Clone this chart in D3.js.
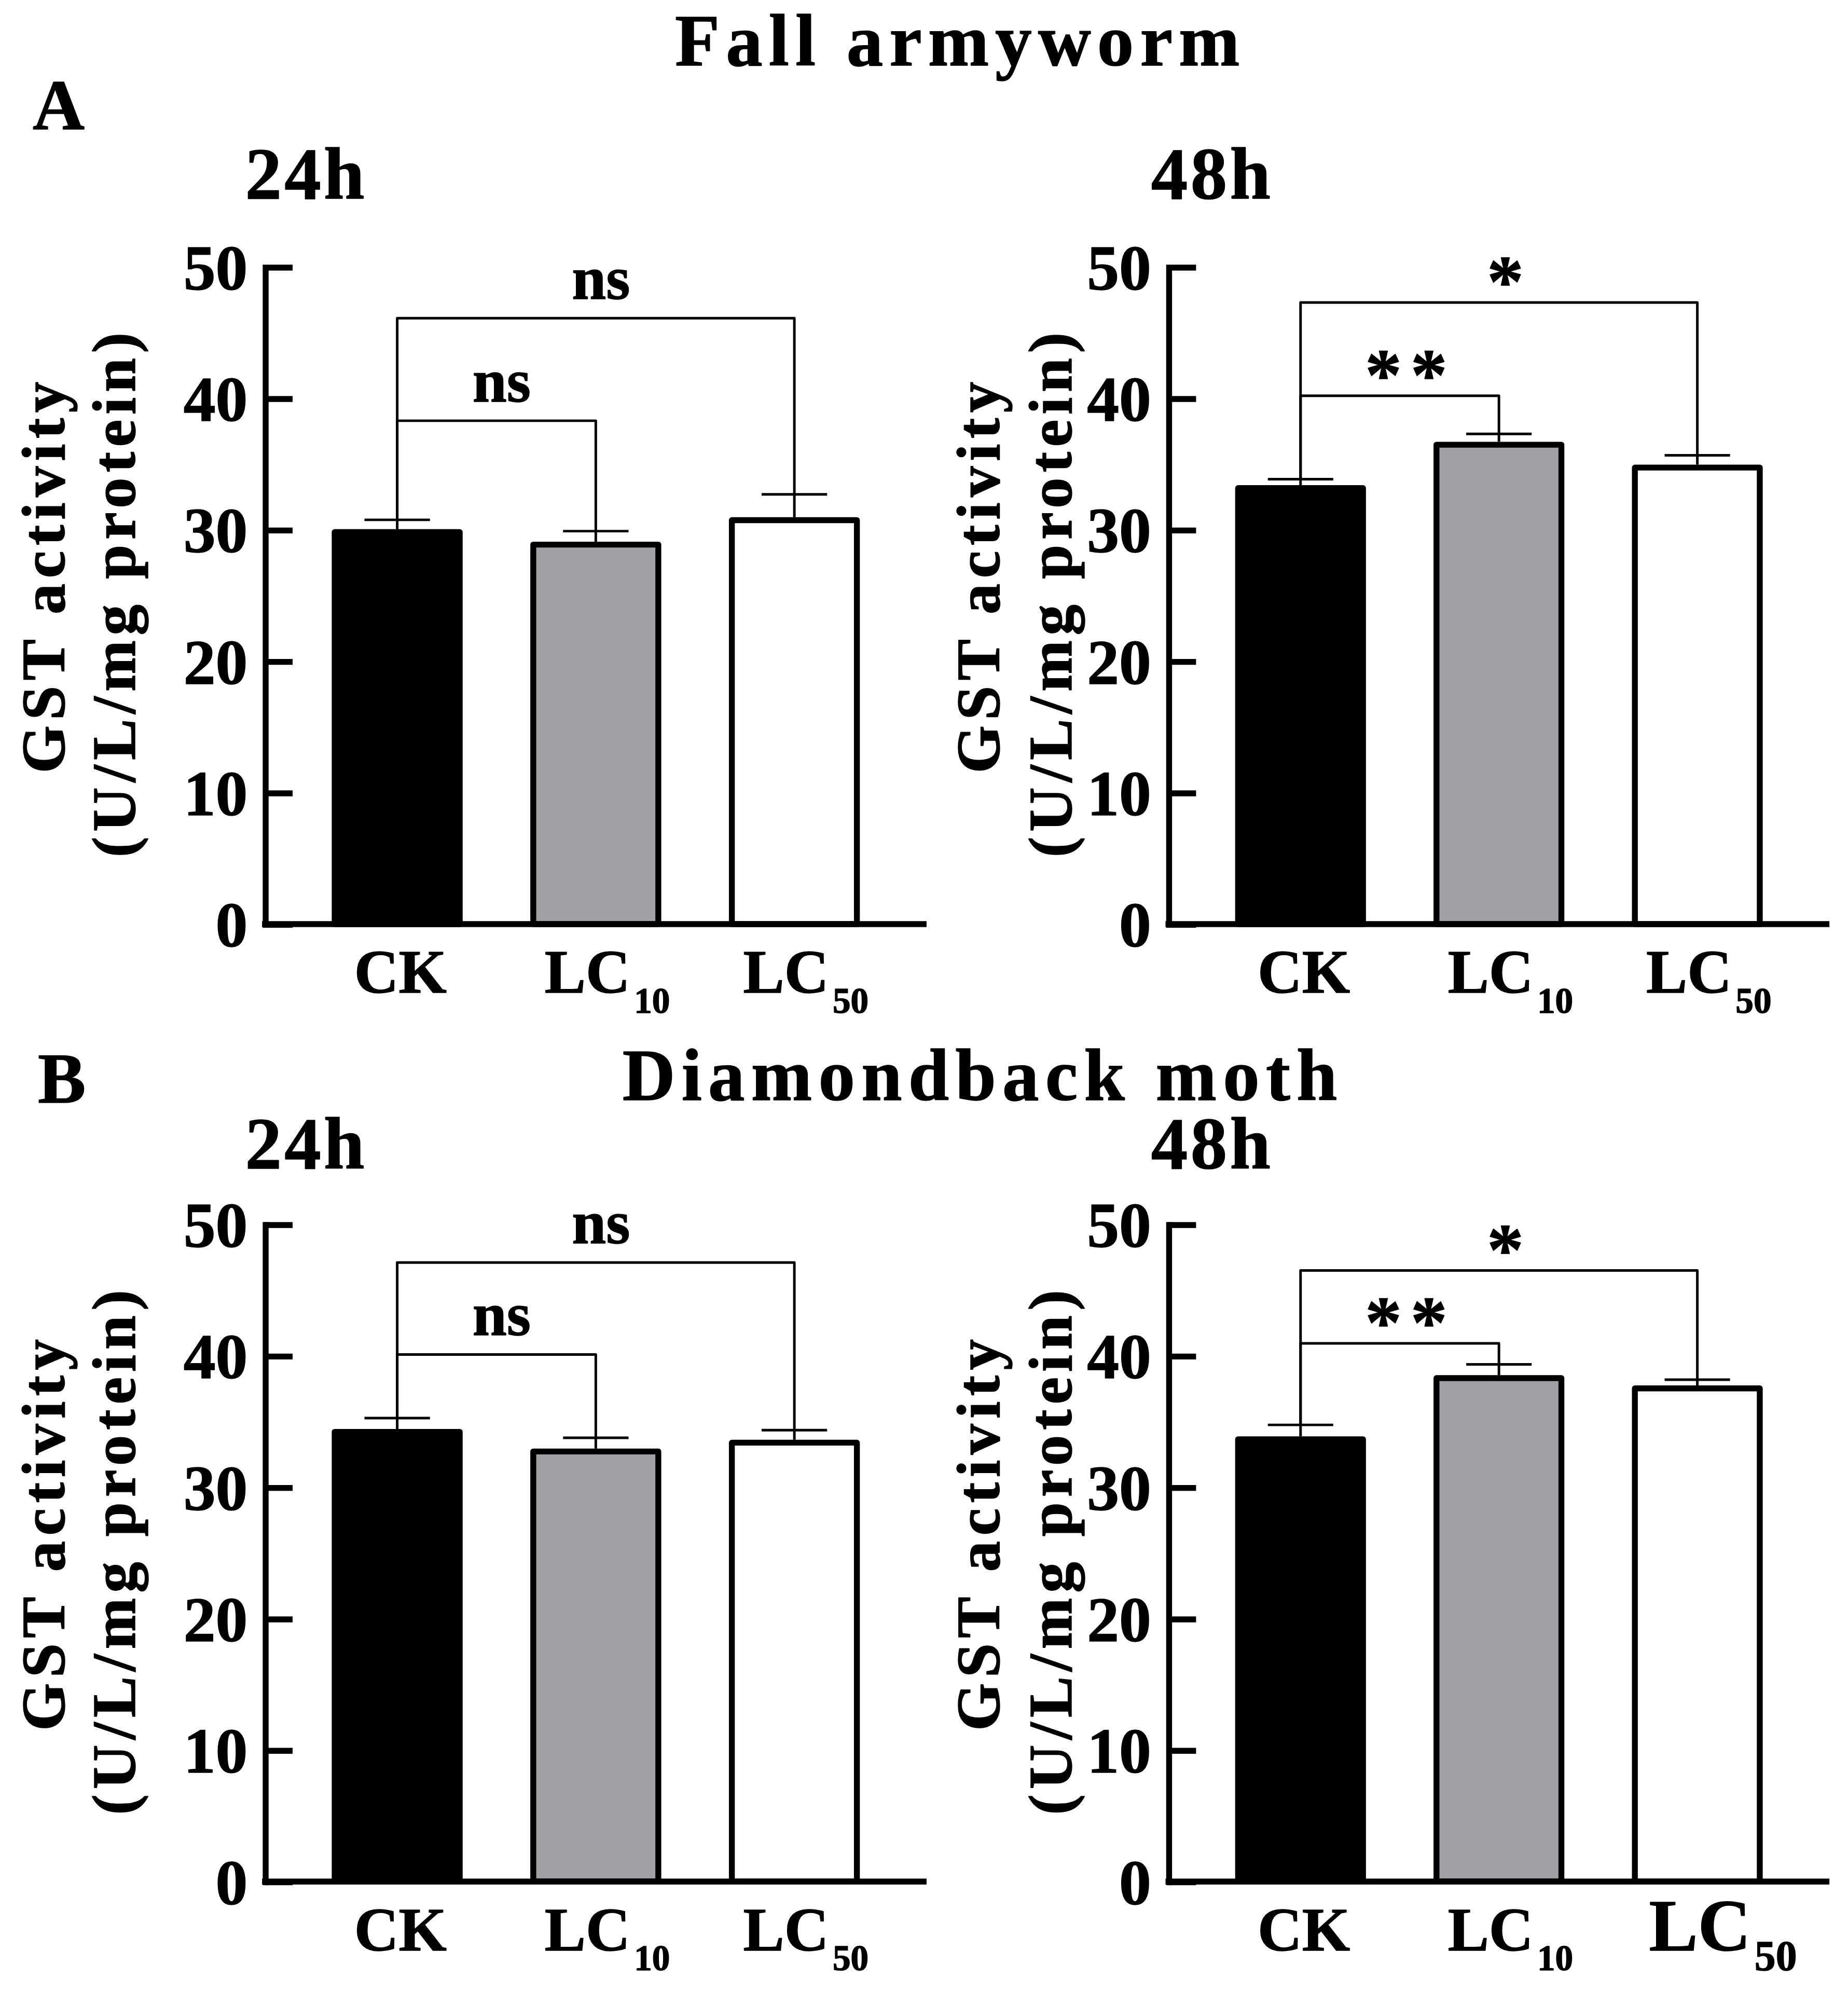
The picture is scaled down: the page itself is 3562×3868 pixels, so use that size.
<!DOCTYPE html>
<html><head><meta charset="utf-8">
<script src="https://cdn.jsdelivr.net/npm/d3@7"></script>
<style>html,body{margin:0;padding:0;background:#fff;} svg{display:block;}</style>
</head><body><svg id="chart"></svg>
<script>
// ---------------- data ----------------
const categories = ["CK", "LC10", "LC50"];
const yTicks = [0, 10, 20, 30, 40, 50];
const meanA24 = [30.05, 29.1, 30.96];
const errA24  = [0.71, 0.8, 1.74];
const meanA48 = [33.4, 36.7, 34.96];
const errA48  = [0.45, 0.6, 0.71];
const meanB24 = [34.44, 32.95, 33.62];
const errB24  = [0.83, 0.82, 0.73];
const meanB48 = [33.88, 38.53, 37.75];
const errB48  = [0.87, 0.82, 0.44];
const bracketPairs = [[0, 1], [0, 2]];
const bracketA24 = [38.3, 46.1];
const bracketA48 = [40.2, 47.3];
const bracketB24 = [40.1, 47.1];
const bracketB48 = [40.95, 46.5];
const sigA24 = ["ns", "ns"];
const sigA48 = ["**", "*"];
const sigB24 = ["ns", "ns"];
const sigB48 = ["**", "*"];
const timeLabels = ["24h", "48h"];
const speciesTitles = ["Fall armyworm", "Diamondback moth"];
const panelLetters = ["A", "B"];
const yLabel1 = "GST activity";
const yLabel2 = "(U/L/mg protein)";
const fills = ["#000000", "#a1a1a5", "#ffffff"];

// ---------------- layout ----------------
const W = 1440, H = 3868 * 1440 / 3562;
const FONT = "'Liberation Serif','Times New Roman',Times,serif";
const AX = 4.6, THIN = 2, TS = 0.6;
const cols = [
  {x0: 206.5, x1: 722, yl1: 50, yl2: 105, tx0: 191, tx1: 284},
  {x0: 910.5, x1: 1425.5, yl1: 778.5, yl2: 835, tx0: 897, tx1: 990}
];
const rows = [
  {y0: 720, y50: 208, tBase: 50.8, tx0: 526, tx1: 966, lx: 25.5, lBase: 100.8, hBase: 155},
  {y0: 1466, y50: 954, tBase: 857, tx0: 485, tx1: 1042, lx: 29.5, lBase: 859, hBase: 910.3}
];

const svg = d3.select("#chart")
  .attr("width", 3562).attr("height", 3868)
  .attr("viewBox", `0 0 ${W} ${H}`)
  .style("font-family", FONT).style("font-weight", "bold")
  .style("stroke-linejoin", "round");

function heavy(sel) { return sel.attr("stroke", "#000").attr("stroke-width", TS); }

// titles
rows.forEach((r, i) => {
  heavy(svg.append("text").attr("x", r.tx0).attr("y", r.tBase)
    .attr("font-size", 57).attr("textLength", r.tx1 - r.tx0).attr("lengthAdjust", "spacing")
    .text(speciesTitles[i]));
  heavy(svg.append("text").attr("x", r.lx).attr("y", r.lBase)
    .attr("font-size", 56).text(panelLetters[i]));
  cols.forEach((c, j) => {
    heavy(svg.append("text").attr("x", c.tx0).attr("y", r.hBase)
      .attr("font-size", 57).attr("textLength", c.tx1 - c.tx0).attr("lengthAdjust", "spacing")
      .text(timeLabels[j]));
  });
});

function drawPanel(c, r, means, errs, brs, sigs, bigLast) {
  const g = svg.append("g");
  const x = d3.scaleBand().domain(categories).range([c.x0, c.x1])
    .paddingInner(0.3406).paddingOuter(0.336);
  const y = d3.scaleLinear().domain([0, 50]).range([r.y0, r.y50]);
  const bw = x.bandwidth();
  const cx = i => x(categories[i]) + bw / 2;

  // bars
  g.selectAll("rect.bar").data(categories).enter().append("rect")
    .attr("x", d => x(d) + AX / 2)
    .attr("y", (d, i) => y(means[i]) + AX / 2)
    .attr("width", bw - AX)
    .attr("height", (d, i) => r.y0 - y(means[i]) - AX / 2)
    .attr("fill", (d, i) => fills[i])
    .attr("stroke", "#000").attr("stroke-width", AX);

  // error bars (upper)
  categories.forEach((d, i) => {
    const xc = cx(i), yt = y(means[i] + errs[i]);
    g.append("line").attr("x1", xc).attr("x2", xc).attr("y1", y(means[i])).attr("y2", yt)
      .attr("stroke", "#000").attr("stroke-width", THIN);
    g.append("line").attr("x1", xc - bw / 4).attr("x2", xc + bw / 4).attr("y1", yt).attr("y2", yt)
      .attr("stroke", "#000").attr("stroke-width", THIN);
  });

  // brackets
  bracketPairs.forEach((p, k) => {
    const [a, b] = p;
    const yb = y(brs[k]);
    g.append("path")
      .attr("d", `M${cx(a)},${y(means[a] + errs[a])}V${yb}H${cx(b)}V${y(means[b] + errs[b])}`)
      .attr("fill", "none").attr("stroke", "#000").attr("stroke-width", THIN);
    const s = sigs[k];
    const mid = (cx(a) + cx(b)) / 2;
    const t = heavy(g.append("text").attr("text-anchor", "middle").text(s));
    if (s === "ns") {
      t.attr("font-size", 48).attr("x", mid + 4).attr("y", yb - 15);
    } else {
      const ls = s.length > 1 ? 7 : 0;
      t.attr("font-size", 57).attr("x", mid + 5 + ls / 2).attr("y", yb + 3)
        .attr("letter-spacing", ls);
    }
  });

  // y axis (inward ticks)
  const ya = g.append("g").attr("transform", `translate(${c.x0},0)`)
    .call(d3.axisLeft(y).tickValues(yTicks).tickSize(-21.5).tickSizeOuter(0).tickPadding(13.5));
  ya.attr("font-family", FONT).attr("font-size", 50).attr("font-weight", "bold");
  ya.select(".domain").attr("stroke-width", AX).attr("stroke-linecap", "square");
  ya.selectAll(".tick line").attr("stroke-width", AX);
  heavy(ya.selectAll(".tick text").attr("fill", "#000").attr("dy", "0.34em"));

  // x axis
  const xa = g.append("g").attr("transform", `translate(0,${r.y0})`)
    .call(d3.axisBottom(x).tickSize(0).tickSizeOuter(0).tickPadding(0));
  xa.attr("font-family", FONT).attr("font-weight", "bold");
  xa.select(".domain").attr("stroke-width", AX)
    .attr("d", `M${c.x0 - AX / 2},0H${c.x1}`);
  xa.selectAll(".tick text").each(function (d, i) {
    const t = heavy(d3.select(this).attr("fill", "#000").attr("dy", null).attr("y", 53.5)
      .attr("text-anchor", "middle").text(null));
    const big = bigLast && i === categories.length - 1;
    const fs = big ? 57 : 48, ss = big ? 33 : 28;
    if (d.startsWith("LC")) {
      t.attr("x", big ? 20 : 9);
      t.append("tspan").attr("font-size", fs).text("LC");
      t.append("tspan").attr("font-size", ss).attr("dx", 3).attr("dy", 15.5).text(d.slice(2));
    } else {
      t.attr("x", 2.5);
      t.append("tspan").attr("font-size", fs).text(d);
    }
  });

  // y label
  const ycen = (r.y0 + r.y50) / 2;
  heavy(g.append("text").attr("transform", `translate(${c.yl1},${ycen - 14}) rotate(-90)`)
    .attr("text-anchor", "middle").attr("font-size", 48)
    .attr("textLength", 305).attr("lengthAdjust", "spacing").text(yLabel1));
  heavy(g.append("text").attr("transform", `translate(${c.yl2},${ycen - 0.5}) rotate(-90)`)
    .attr("text-anchor", "middle").attr("font-size", 48)
    .attr("textLength", 409).attr("lengthAdjust", "spacing").text(yLabel2));
}

drawPanel(cols[0], rows[0], meanA24, errA24, bracketA24, sigA24, false);
drawPanel(cols[1], rows[0], meanA48, errA48, bracketA48, sigA48, false);
drawPanel(cols[0], rows[1], meanB24, errB24, bracketB24, sigB24, false);
drawPanel(cols[1], rows[1], meanB48, errB48, bracketB48, sigB48, true);
</script>
</body></html>
